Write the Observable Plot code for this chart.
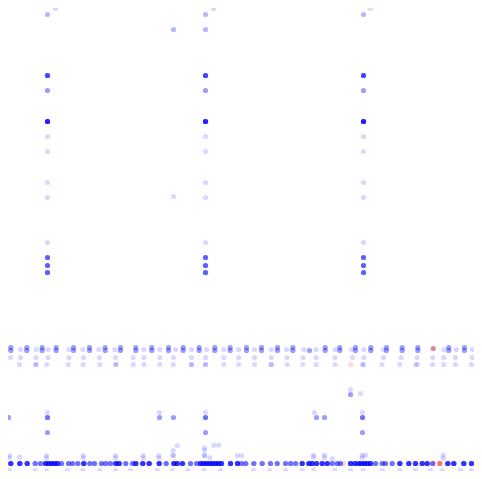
<!DOCTYPE html>
<html>
<head>
<meta charset="utf-8">
<script src="https://cdn.jsdelivr.net/npm/d3@7"></script>
<script src="https://cdn.jsdelivr.net/npm/@observablehq/plot@0.6"></script>
<style>
  html, body { margin: 0; padding: 0; background: #fff; }
  #chart svg { display: block; }
</style>
</head>
<body>
<div id="chart"></div>
<script>
// Vertical stacks (three repeated columns)
const stackX = [47, 205, 363];
const stackY = [14, 75, 90, 121, 136, 151, 182, 197, 242, 257, 265, 272];
const stackN = [2, 8, 3, 12, 1, 1, 1, 1, 1, 6, 6, 6];

// scattered extra points in upper part: [x, y, count]
const upperExtras = [[55, 8, 1], [213, 8, 1], [370, 8, 1], [173, 29, 2], [205, 29, 2], [173, 196, 1]];

// band near 347–364
const bandDarkX = [10.3, 26.3, 41.7, 55.7, 73, 89, 104.7, 120, 135.3, 151.3, 168, 182.7, 198.7, 214.3, 229.7, 246, 261, 277, 292.3, 324.7, 339.3, 355, 370.3, 386, 401.7, 417.3, 448.3, 464];
const bandDarkY = [347, 350];
const bandLightX = [20, 35.7, 47.7, 68.3, 82.3, 98.3, 114.3, 143.3, 159.3, 175, 191, 206, 223.3, 238.3, 254, 270.7, 286, 303.3, 315.7, 334.7, 351.3, 363.3, 382.7, 443.3, 455.7, 471.7];
const bandMidX = [10, 20, 35.5, 47.7, 68.5, 83, 99, 115, 132.7, 143.3, 159.3, 173, 191, 205, 223.3, 238.3, 254, 270.7, 286.5, 302.5, 315.7, 334.5, 352, 363.3, 383, 400.5, 416.7, 432.3, 443.3, 455, 471.7];
const bandLow = [[19, 1], [35.3, 2], [46.3, 1], [67.7, 1], [82.7, 1], [99.3, 1], [115.3, 2], [132.7, 1], [143.3, 1], [159.3, 1], [172.7, 1], [191, 2], [205, 2], [223.3, 1], [238.3, 1], [254, 1], [270.7, 2], [286.7, 1], [302.3, 1], [315.7, 1], [334.5, 1], [362.5, 2], [381.5, 1], [399.3, 1], [415.3, 1], [417, 1], [432, 1], [443.3, 1], [455, 1], [471, 1]];
const bandSingle = [[309, 350, 3]];

// middle points: [x, y, count]
const middle = [[8, 417, 3], [47, 412, 1], [47, 417, 5], [47, 432, 3], [159, 412, 1], [159, 417, 3], [173, 417, 3], [205, 412, 1], [205, 417, 5], [205, 432, 3], [314, 412, 1], [316, 417, 3], [324, 417, 3], [350, 389, 1], [350, 394, 3], [360, 393, 1], [362, 412, 1], [362, 417, 5], [362, 432, 3]];

// bottom baseline row: [x, count]
const baseRow = [[10.3, 10], [19.3, 10], [26.7, 10], [34.7, 5], [40, 5], [45, 10], [48, 10], [51, 10], [54, 10], [57, 10], [61, 5], [68, 5], [72, 5], [77.3, 5], [83.3, 10], [89.3, 5], [94, 5], [101, 5], [105.3, 5], [110, 5], [115.3, 10], [118.7, 10], [125.3, 5], [132, 5], [135.3, 10], [142.3, 10], [148.7, 10], [158.7, 10], [165.7, 5], [173.3, 10], [176.7, 10], [182, 10], [190, 5], [196, 5], [200, 10], [203, 10], [206, 10], [209, 10], [212, 10], [215, 10], [218, 10], [221, 10], [230, 10], [237, 10], [241, 5], [245.3, 5], [253.3, 5], [261.7, 5], [270, 5], [276.7, 5], [285, 5], [290, 5], [295, 5], [301.7, 10], [308.3, 10], [311.7, 10], [316, 10], [321.7, 10], [326.7, 10], [331.7, 5], [336.7, 5], [340, 5], [350, 10], [354.3, 10], [358, 10], [361, 10], [364, 10], [367, 10], [370, 10], [375, 5], [381.7, 5], [385, 5], [391.7, 5], [399.3, 10], [408.3, 10], [415, 10], [421.7, 10], [426.7, 10], [432.3, 5], [447.3, 10], [453.3, 10], [463.3, 10], [471, 10]];
const baseY = 463;
const belowX = [9, 34.7, 46, 66.7, 82.3, 99.3, 115, 130, 156.7, 171.7, 187.3, 203.3, 220, 252.7, 269.3, 285, 301.7, 313.3, 334.3, 350, 362.7, 381.7, 399.3, 415, 430, 442, 460, 471];
const belowY = 470;
const aboveBase = [[9, 455, 1], [9, 457.3, 1], [19, 456.7, 1], [46, 455, 1], [46, 457.3, 1], [82.7, 455, 1], [82.7, 457.3, 1], [115, 455, 1], [115, 457.3, 1], [142.7, 455, 1], [142.7, 457.3, 1], [158.3, 455, 1], [158.3, 457.3, 1], [172.7, 450, 1], [172.7, 455, 2], [176.7, 445, 1], [204, 447.3, 1], [204, 450, 1], [204, 455, 2], [209.3, 457.3, 1], [213.3, 444.7, 1], [218.3, 444.7, 1], [236.7, 455, 1], [241, 455, 1], [313, 454.7, 1], [313, 456.7, 1], [324, 454.7, 1], [324, 457, 1], [332, 458.3, 1], [361.7, 454.7, 1], [361.7, 457, 1], [365, 454.7, 1], [442.7, 454.7, 1], [442.7, 457.7, 1]];

// second series (red): [x, y, count]
const seriesB = [[432.7, 348, 3], [350.3, 364, 1], [343.3, 463, 1], [439.3, 463, 5], [432, 463, 1]];

const points = [];
function add(x, y, n, g) { for (let i = 0; i < n; i++) points.push({x, y, g}); }

stackX.forEach(x => stackY.forEach((y, i) => add(x, y, stackN[i], "A")));
upperExtras.forEach(([x, y, n]) => add(x, y, n, "A"));
bandDarkX.forEach(x => bandDarkY.forEach(y => add(x, y, 3, "A")));
add(432.7, 348, 1, "A");
bandLightX.forEach(x => add(x, 349, 1, "A"));
bandMidX.forEach(x => add(x, 357, 1, "A"));
bandLow.forEach(([x, n]) => add(x, 364, n, "A"));
bandSingle.forEach(([x, y, n]) => add(x, y, n, "A"));
middle.forEach(([x, y, n]) => add(x, y, n, "A"));
baseRow.forEach(([x, n]) => add(x, baseY, n, "A"));
belowX.forEach(x => add(x, belowY, 1, "A"));
aboveBase.forEach(([x, y, n]) => add(x, y, n, "A"));
seriesB.forEach(([x, y, n]) => add(x, y, n, "B"));

const chart = Plot.plot({
  width: 482,
  height: 479,
  marginTop: 8,
  marginBottom: 8,
  marginLeft: 8,
  marginRight: 8,
  clip: true,
  x: {domain: [8, 474], axis: null},
  y: {domain: [471, 8], axis: null},
  color: {domain: ["A", "B"], range: ["#0000ff", "#ff0000"]},
  marks: [
    Plot.dot(points, {x: "x", y: "y", r: 2.6, fill: "g", fillOpacity: 0.15, stroke: "none"})
  ]
});
document.getElementById("chart").appendChild(chart);
</script>
</body>
</html>
